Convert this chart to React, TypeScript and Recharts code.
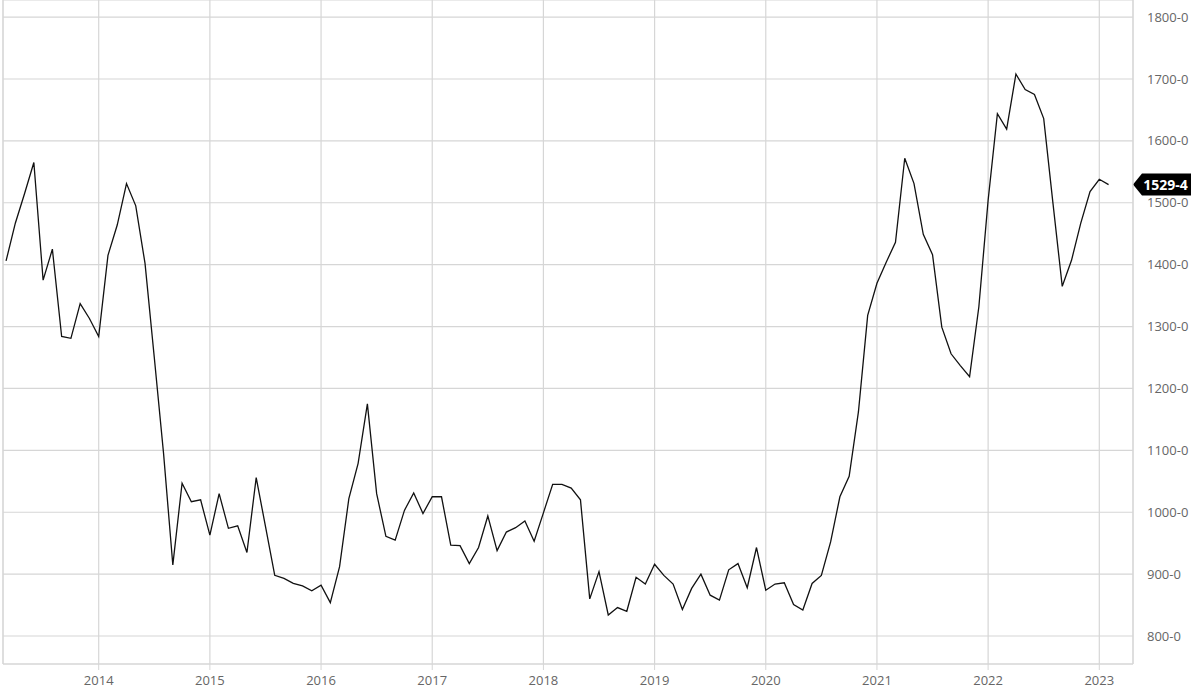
import { LineChart, Line, XAxis, YAxis, CartesianGrid, ReferenceLine } from "recharts";

// monthly series, first point is March 2013
const startYear = 2013;
const startMonth = 3;

const values = [
  1406, 1467, 1515, 1565, 1375, 1425, 1284, 1281, 1337, 1313,
  1284, 1415, 1464, 1531, 1495, 1402, 1250, 1095, 915, 1047, 1017, 1020,
  963, 1030, 974, 978, 935, 1056, 977, 898, 893, 885, 881, 873,
  882, 854, 912, 1022, 1079, 1175, 1030, 961, 955, 1003, 1031, 998,
  1025, 1025, 947, 946, 917, 943, 994, 938, 968, 975, 986, 953,
  999, 1045, 1045, 1039, 1020, 860, 904, 834, 846, 840, 895, 884,
  916, 898, 884, 843, 877, 900, 866, 858, 907, 917, 878, 943,
  874, 884, 886, 851, 842, 885, 898, 952, 1025, 1058, 1162, 1318,
  1370, 1404, 1436, 1572, 1531, 1449, 1416, 1299, 1256, 1237, 1219, 1332,
  1504, 1644, 1619, 1708, 1683, 1675, 1636, 1499, 1365, 1407, 1467, 1518,
  1538, 1529.4,
];

const yearTicks = [2014, 2015, 2016, 2017, 2018, 2019, 2020, 2021, 2022, 2023];
const priceTicks = [800, 900, 1000, 1100, 1200, 1300, 1400, 1500, 1600, 1700, 1800];

const data = values.map((v, i) => ({
  t: startYear + (startMonth - 1 + i) / 12,
  value: v,
}));

const lastValue = values[values.length - 1];
const fmt = (v: number) => v.toFixed(1).replace(".", "-");

const gridColor = "#d6d6d6";
const labelColor = "#666";
const font = "'Open Sans', sans-serif";

const PriceTag = (props: any) => {
  const vb = props.viewBox || {};
  const tipX = (vb.x ?? 0) + (vb.width ?? 0);
  const y = vb.y ?? 0;
  const left = tipX + 9;
  const right = tipX + 58;
  const pts = `${tipX},${y} ${left},${y - 11} ${right},${y - 11} ${right},${y + 11} ${left},${y + 11}`;
  return (
    <g>
      <polygon points={pts} fill="#000" />
      <text
        x={(left + right) / 2 - 1}
        y={y}
        dy="0.36em"
        textAnchor="middle"
        fill="#fff"
        fontFamily={font}
        fontWeight={700}
        fontSize={14}
      >
        {fmt(lastValue)}
      </text>
    </g>
  );
};

const App = () => {
  return (
    <div style={{ position: "absolute", left: 0, top: 0, width: 1200, height: 695, background: "#fff" }}>
      <LineChart width={1200} height={695} data={data} margin={{ top: 0, right: 0, bottom: 0, left: 3 }}>
        <CartesianGrid stroke={gridColor} strokeWidth={1.2} />
        <XAxis
          dataKey="t"
          type="number"
          domain={[2013.1392, 2023.3031]}
          ticks={yearTicks}
          allowDataOverflow
          height={31}
          stroke={gridColor}
          tickSize={6}
          tickMargin={6}
          tick={{ fill: labelColor, fontSize: 13, fontFamily: font }}
        />
        <YAxis
          orientation="right"
          type="number"
          domain={[754.8, 1827.6]}
          ticks={priceTicks}
          allowDataOverflow
          width={67}
          stroke={gridColor}
          tickLine={false}
          tickMargin={8}
          tickFormatter={fmt}
          tick={{ fill: labelColor, fontSize: 13, fontFamily: font }}
        />
        <ReferenceLine x={2013.1392} stroke={gridColor} />
        <Line
          type="linear"
          dataKey="value"
          stroke="#111"
          strokeWidth={1.3}
          dot={false}
          isAnimationActive={false}
        />
        <ReferenceLine y={lastValue} stroke="none" label={<PriceTag />} />
      </LineChart>
    </div>
  );
};

export default App;
